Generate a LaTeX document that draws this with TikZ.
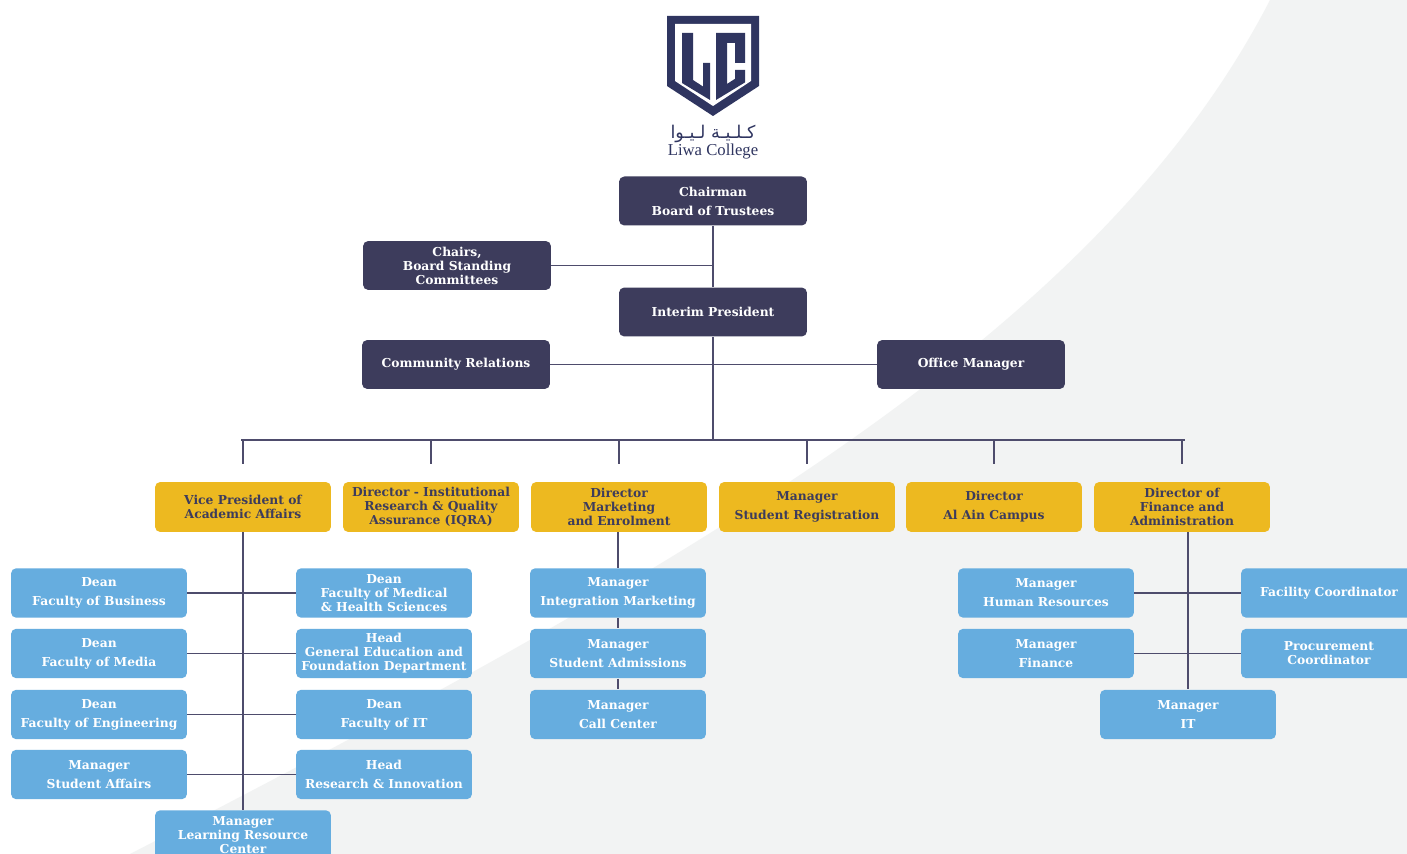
\documentclass[tikz,border=0pt]{standalone}
\usepackage{fontspec}
\setmainfont{DejaVu Serif}
\newfontfamily\arabicfont[Script=Arabic]{DejaVu Sans}
\newfontfamily\logofont{Liberation Serif}
\TeXXeTstate=1
\usepackage{xcolor}
\usepackage{tikz}

\definecolor{navy}{HTML}{3D3C5C}
\definecolor{logonavy}{HTML}{2F3560}
\definecolor{gold}{HTML}{EDB920}
\definecolor{sky}{HTML}{66ADDF}
\definecolor{linecol}{HTML}{4E4C6C}
\definecolor{bggrey}{HTML}{F2F3F3}

\tikzset{
  box/.style={rectangle, rounded corners=3pt, inner sep=0pt, align=center, font=\fontsize{7}{8}\selectfont\bfseries},
  darkbox/.style={box, fill=navy, text=white, minimum width=3.76cm, minimum height=0.98cm},
  yelbox/.style={box, fill=gold, text=navy, minimum width=3.52cm, minimum height=1cm},
  bluebox/.style={box, fill=sky, text=white, minimum width=3.52cm, minimum height=0.99cm},
  link/.style={draw=linecol, line width=1pt}
}
\newcommand{\twoline}[2]{#1\\[2.8pt]#2}

\begin{document}
\begin{tikzpicture}[x=0.02cm, y=-0.02cm]
\useasboundingbox (0,0) rectangle (1407,854);
\clip (0,0) rectangle (1407,854);
\fill[white] (0,0) rectangle (1407,854);
\fill[bggrey] (1270,0) .. controls (1100,330) and (700,560) .. (130,854) -- (1407,854) -- (1407,0) -- cycle;

% logo
\fill[logonavy] (667,16) -- (759,16) -- (759,86) -- (713,116) -- (667,86) -- cycle;
\fill[white] (675,24) -- (751,24) -- (751,81) -- (713,106) -- (675,81) -- cycle;
\fill[logonavy] (682,33) -- (693,33) -- (693,80) -- (703,86.5) -- (703,63) -- (710,63) -- (710,100) -- (682,83) -- cycle;
\fill[logonavy] (716,33) -- (745,33) -- (745,63) -- (735,63) -- (735,43) -- (727,43) -- (727,84) -- (735,78.8) -- (735,70) -- (745,70) -- (745,82.4) -- (716,100) -- cycle;
\node[text=logonavy, font=\arabicfont\fontsize{10}{10}\selectfont] (ar) at (713,134) {\beginR كـلـيـة لـيـوا\endR};
\node[text=logonavy, font=\logofont\fontsize{9.5}{10}\selectfont] (lw) at (713,152) {Liwa College};

\begin{scope}[every node/.style={darkbox}]
  \draw node (chm) at (713,201) {\twoline{Chairman}{Board of Trustees}};
  \draw node (chs) at (457,265.5) {Chairs,\\Board Standing\\Committees};
  \draw node (pres) at (713,312) {Interim President};
  \draw node (com) at (456,364.5) {Community Relations};
  \draw node (off) at (971,364.5) {Office Manager};
\end{scope}

\begin{scope}[every node/.style={yelbox}]
  \draw node (vp) at (243,507) {Vice President of\\Academic Affairs};
  \draw node (iqra) at (431,507) {Director - Institutional\\Research \& Quality\\Assurance (IQRA)};
  \draw node (mkt) at (619,507) {Director\\Marketing\\and Enrolment};
  \draw node (reg) at (807,507) {\twoline{Manager}{Student Registration}};
  \draw node (ain) at (994,507) {\twoline{Director}{Al Ain Campus}};
  \draw node (fin) at (1182,507) {Director of\\Finance and\\Administration};
\end{scope}

\begin{scope}[every node/.style={bluebox}]
  \draw node (db) at (99,593) {\twoline{Dean}{Faculty of Business}};
  \draw node (dmd) at (99,653.5) {\twoline{Dean}{Faculty of Media}};
  \draw node (de) at (99,714.5) {\twoline{Dean}{Faculty of Engineering}};
  \draw node (msa) at (99,774.5) {\twoline{Manager}{Student Affairs}};
  \draw node (dmh) at (384,593) {Dean\\Faculty of Medical\\\& Health Sciences};
  \draw node (hge) at (384,653.5) {Head\\General Education and\\Foundation Department};
  \draw node (dit) at (384,714.5) {\twoline{Dean}{Faculty of IT}};
  \draw node (hri) at (384,774.5) {\twoline{Head}{Research \& Innovation}};
  \draw node (lrc) at (243,835) {Manager\\Learning Resource\\Center};

  \draw node (im) at (618,593) {\twoline{Manager}{Integration Marketing}};
  \draw node (sad) at (618,653.5) {\twoline{Manager}{Student Admissions}};
  \draw node (cc) at (618,714.5) {\twoline{Manager}{Call Center}};

  \draw node (hr) at (1046,593) {\twoline{Manager}{Human Resources}};
  \draw node (mf) at (1046,653.5) {\twoline{Manager}{Finance}};
  \draw node (fc) at (1329,593) {Facility Coordinator};
  \draw node (pc) at (1329,653.5) {Procurement\\Coordinator};
  \draw node (mit) at (1188,714.5) {\twoline{Manager}{IT}};
\end{scope}

\coordinate (bl) at (241,440);
\coordinate (br) at (1185,440);

\draw[link] (chm.south) -- (pres.north);
\draw[link] (chs.east) -- (chs.east -| chm.south);
\draw[link] (com.east) -- (off.west);
\draw[link] (pres.south) -- (pres.south |- bl);
\draw[link] (bl) -- (br);
\foreach \n in {vp,iqra,mkt,reg,ain,fin}
  \draw[link] (\n.north) ++(0,-42) -- ++(0,24);

\draw[link] (vp.south) -- (lrc.north);
\draw[link] (db.east) -- (dmh.west);
\draw[link] (dmd.east) -- (hge.west);
\draw[link] (de.east) -- (dit.west);
\draw[link] (msa.east) -- (hri.west);

\draw[link] (im.north |- mkt.south) -- (im.north);
\draw[link] (im.south) -- (sad.north);
\draw[link] (sad.south) -- (cc.north);

\draw[link] (mit.north |- fin.south) -- (mit.north);
\draw[link] (hr.east) -- (fc.west);
\draw[link] (mf.east) -- (pc.west);
\end{tikzpicture}
\end{document}
